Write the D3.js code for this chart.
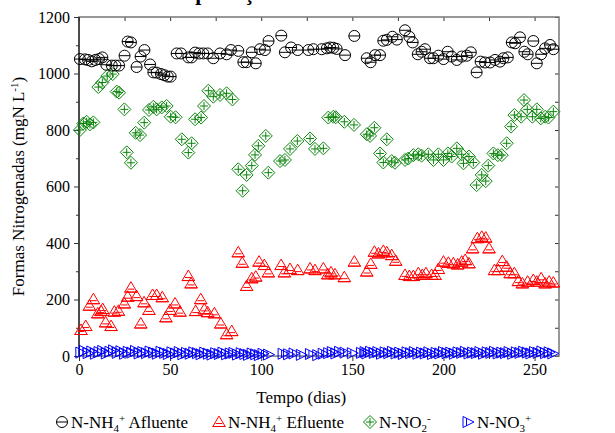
<!DOCTYPE html>
<html>
<head>
<meta charset="utf-8">
<script src="https://cdn.jsdelivr.net/npm/d3@7"></script>
<style>
  body { margin: 0; background: #fff; }
  svg, svg text { font-family: "Liberation Serif", "Times New Roman", Times, serif !important; }
  .tick text { font-size: 16px; fill: #000; }
</style>
</head>
<body>
<svg id="chart"></svg>
<script>
// [dia, mgN/L]
const afluente = [
  [0.5,1051],[3.3,1050],[5,1048],[7,1043],[9,1048],[11,1051],[12.8,1057],[15,1031],[18,1028],[20,1028],
  [22,1028],[25,1063],[26.7,1113],[28.5,1110],[31.6,1023],[33.8,1060],[35.9,1083],[39,1032],[40.8,1004],[42.6,1003],
  [45,998],[46.8,994],[48.7,989],[50.3,989],[53.6,1071],[56,1071],[60,1057],[61.8,1057],[63.7,1074],[66,1071],
  [68.2,1071],[70.6,1071],[73.7,1054],[77.4,1071],[81,1068],[83.4,1083],[87.4,1080],[90.2,1040],[92,1040],[94.8,1075],
  [97,1036],[99.3,1086],[102,1083],[104,1115],[111,1134],[113,1075],[116.4,1092],[120,1083],[125.9,1083],[128.6,1086],
  [133.2,1086],[136,1089],[137.8,1092],[139.6,1091],[141.4,1087],[146,1065],[151.1,1133],[157.9,1054],[160,1040],[162.5,1065],
  [165.2,1065],[167,1116],[168.9,1119],[172,1130],[174.4,1120],[178.9,1153],[181.3,1130],[183.1,1110],[185.9,1068],[188,1077],
  [189.9,1086],[192.6,1054],[194.5,1054],[197.2,1063],[200,1051],[202.3,1077],[204.5,1060],[207.3,1048],[210,1060],[212.8,1063],
  [215,1075],[218.2,1004],[220.4,1042],[222.8,1039],[225.6,1039],[228.3,1048],[231,1042],[232.9,1054],[235.3,1057],[237.5,1110],
  [239.3,1107],[242,1128],[244.4,1077],[246.2,1068],[249.3,1115],[251.2,1036],[253.6,1068],[255.8,1089],[258.5,1101],[260.3,1086]
];

const efluente = [
  [1.1,92],[3.7,106],[5.7,178],[7.9,201],[10.3,151],[12.1,159],[13,166],[14.6,119],[17.6,106],[19.4,157],
  [21.6,160],[24.9,186],[26.7,210],[28.5,242],[31.6,212],[33.9,115],[35.7,190],[38.4,163],[40.4,216],[42.6,216],
  [45.7,208],[47.7,137],[50,163],[52.7,186],[55.4,157],[60,283],[61.5,257],[64,159],[66.8,201],[68.8,165],
  [70.6,155],[74.3,151],[77.8,115],[81,77],[83.8,88],[87.4,367],[89.6,330],[92,248],[94.8,275],[97,281],
  [98.8,334],[101.7,322],[103.9,296],[110.9,322],[112.7,296],[115.8,308],[120,304],[126.8,310],[129.5,304],[134.1,310],
  [136.5,289],[138.3,296],[140.5,289],[145.6,279],[151.1,334],[157.9,299],[160.1,326],[162.1,369],[164.3,363],[167,372],
  [168.9,367],[171.6,357],[173.8,337],[178.9,287],[181.3,283],[183.5,283],[186.2,293],[188.4,287],[190.4,293],[193.5,287],
  [195.4,287],[197.2,308],[200,334],[202.7,330],[205.4,328],[207.8,324],[210,334],[211.9,340],[214,328],[216,381],
  [218.6,417],[221,422],[223.2,419],[225,381],[228,304],[230.1,304],[232.3,336],[234.7,316],[236.6,293],[238.9,293],
  [241.1,265],[243.3,257],[246.2,263],[249.3,269],[251.2,263],[253.6,275],[255.8,257],[258,263],[260.3,260]
];

const nitrito = [
  [0.5,800],[2.4,823],[4.2,829],[6,820],[7.9,827],[10.6,952],[12.8,968],[15.5,991],[18.5,998],[20.7,936],
  [22,932],[24.9,873],[26.2,721],[28.5,684],[31.1,790],[33.5,782],[35.8,826],[38.4,871],[40.8,882],[42.6,873],
  [45.4,880],[48.1,885],[50.3,847],[53,845],[56.4,767],[60,720],[61.8,753],[63.7,838],[67,844],[68.6,885],
  [71,939],[73.7,918],[77.4,924],[81,930],[84.2,908],[87.4,661],[89.8,585],[92,641],[94.8,674],[96.6,712],
  [98.4,744],[102.5,779],[103.9,649],[110.3,690],[113,694],[115.8,733],[119.8,761],[126.8,770],[129.5,733],[134.1,735],
  [136.8,844],[139.6,847],[140.9,845],[145.6,829],[150.9,818],[157.9,785],[159.7,779],[162.1,808],[165.2,717],[167,685],
  [168.9,767],[171.6,690],[173.4,684],[178.9,694],[180.7,699],[183.5,711],[186.2,714],[188,709],[191.7,714],[194.5,694],
  [197.2,714],[200,694],[202.4,717],[204.5,706],[207.3,735],[210,714],[211,682],[214,706],[216.4,685],[218.2,605],
  [221,641],[223.2,619],[224.6,674],[227.4,717],[229.8,711],[232,711],[234.7,753],[237.1,812],[238.9,853],[242.6,847],
  [244.2,906],[246,873],[248.8,847],[251.2,873],[253.4,841],[255.8,847],[257.6,844],[260.3,865]
];

const nitrato = [
  [1,12],[3,18],[5,10],[7,16],[9,8],[11,14],[13,18],[15,9],[17,15],[19,20],[21,11],[23,17],[25,8],[27,15],
  [29,12],[31,18],[33,9],[35,14],[37,10],[39,16],[41,12],[43,8],[45,15],[47,11],[49,7],[51,13],[53,9],[55,14],
  [57,6],[59,11],[61,8],[63,13],[65,10],[67,6],[69,12],[71,8],[73,5],[75,10],[77,7],[79,12],[81,6],[83,9],
  [85,11],[87,5],[89,10],[91,7],[93,4],[95,9],[97,6],[99,3],[101,8],[104,5],[112,8],[115,6],[118,9],[122,4],
  [127,7],[131,3],[134,8],[137,10],[139,14],[141,9],[143,15],[146,12],[150,10],[155,11],[157,14],[158,9],[160,15],
  [162,11],[164,14],[166,8],[168,13],[170,10],[172,15],[174,9],[176,12],[178,7],[180,13],[182,10],[184,14],[186,8],
  [188,12],[190,9],[192,13],[194,7],[196,11],[198,9],[200,14],[202,10],[204,12],[206,8],[208,13],[210,11],[212,15],
  [214,9],[216,12],[218,10],[220,14],[222,8],[224,13],[226,11],[228,15],[230,9],[232,12],[234,10],[236,14],[238,8],
  [240,13],[242,11],[244,15],[246,12],[248,9],[250,14],[252,11],[254,16],[256,10],[258,13],[260,9]
];

const xTicks = [0, 50, 100, 150, 200, 250];
const xMinor = [25, 75, 125, 175, 225];
const yTicks = [0, 200, 400, 600, 800, 1000, 1200];
const yMinor = [100, 300, 500, 700, 900, 1100];

const fontFam = '"Liberation Serif", "Times New Roman", Times, serif';

const margin = {top: 17, right: 56, bottom: 77, left: 79},
  width = 480,
  height = 339;

const svg = d3.select('#chart')
  .attr('width', width + margin.left + margin.right)
  .attr('height', height + margin.top + margin.bottom)
  .attr('font-family', fontFam);

const chart = svg.append('g')
  .attr('transform', `translate(${margin.left}, ${margin.top})`);

const x = d3.scaleLinear().domain([0, 263.4]).range([0, width]);
const y = d3.scaleLinear().domain([0, 1200]).range([height, 0]);

// titulo (cortado no topo, como no original)
svg.append('text')
  .attr('x', 172)
  .attr('y', 0)
  .style('font-size', '22px')
  .style('font-weight', 'bold')
  .text('Especiação das formas');

// eixos
chart.append('g')
  .attr('transform', `translate(0,${height})`)
  .call(d3.axisBottom(x).tickValues(xTicks).tickSize(5).tickPadding(3).tickFormat(d3.format('d')));
chart.append('g')
  .attr('transform', `translate(0,${height})`)
  .call(d3.axisBottom(x).tickValues(xMinor).tickSize(3).tickFormat(''));
chart.append('g')
  .call(d3.axisTop(x).tickValues(xTicks.concat(xMinor)).tickSize(-4).tickFormat(''));

chart.append('g')
  .call(d3.axisLeft(y).tickValues(yTicks).tickSize(5).tickPadding(4).tickFormat(d3.format('d')));
chart.append('g')
  .call(d3.axisLeft(y).tickValues(yMinor).tickSize(3).tickFormat(''));
chart.append('g')
  .attr('transform', `translate(${width},0)`)
  .call(d3.axisRight(y).tickValues(yTicks.concat(yMinor)).tickSize(-4).tickFormat(''));

chart.selectAll('g').attr('font-family', fontFam).attr('font-size', 16);
chart.selectAll('.domain').remove();
chart.selectAll('.tick line').attr('stroke', '#333');

chart.append('rect')
  .attr('width', width)
  .attr('height', height)
  .attr('fill', 'none')
  .attr('stroke', '#777')
  .attr('stroke-width', 1.5);
chart.append('line')
  .attr('x1', 0).attr('x2', 0)
  .attr('y1', 0).attr('y2', height)
  .attr('stroke', '#000');

// simbolos
const shapes = {
  circ: 'M-5.5,0A5.5,5.5 0 1,0 5.5,0A5.5,5.5 0 1,0 -5.5,0ZM-5.5,0H5.5',
  tri: 'M0,-6L6.2,4.5H-6.2ZM-6.5,4.5H6.5M-3.3,1.5H3.3',
  diam: 'M0,-6.5L6.5,0L0,6.5L-6.5,0ZM0,-4V4M-4,0H4',
  rtri: 'M-5,-5.5L6,0L-5,5.5ZM-1.5,-3.7V3.7'
};

const series = [
  {data: nitrato, shape: 'rtri', color: '#0000ff'},
  {data: efluente, shape: 'tri', color: '#ff0000'},
  {data: nitrito, shape: 'diam', color: '#0a850a'},
  {data: afluente, shape: 'circ', color: '#000000'}
];

series.forEach(s => {
  chart.append('g').selectAll('path')
    .data(s.data)
    .enter().append('path')
    .attr('transform', d => `translate(${x(d[0])},${y(d[1])})`)
    .attr('d', shapes[s.shape])
    .attr('fill', 'none')
    .attr('stroke', s.color)
    .attr('stroke-width', 1);
});

// rotulos
svg.append('text')
  .attr('x', margin.left + x(122))
  .attr('y', 403)
  .attr('text-anchor', 'middle')
  .style('font-size', '17px')
  .text('Tempo (dias)');

const yl = svg.append('text')
  .attr('transform', `translate(24,${margin.top + height / 2}) rotate(-90)`)
  .attr('text-anchor', 'middle')
  .style('font-size', '17px');
yl.append('tspan').text('Formas Nitrogenadas (mgN L');
yl.append('tspan').attr('dy', -6).style('font-size', '11px').text('-1');
yl.append('tspan').attr('dy', 6).text(')');

// legenda
const legend = [
  {shape: 'circ', color: '#000000', x: 62, parts: [['N-NH', 0], ['4', 1], ['+', -1], [' Afluente', 0]]},
  {shape: 'tri', color: '#ff0000', x: 219, parts: [['N-NH', 0], ['4', 1], ['+', -1], [' Efluente', 0]]},
  {shape: 'diam', color: '#0a850a', x: 370, parts: [['N-NO', 0], ['2', 1], ['-', -1]]},
  {shape: 'rtri', color: '#0000ff', x: 468, parts: [['N-NO', 0], ['3', 1], ['+', -1]]}
];

legend.forEach(l => {
  svg.append('path')
    .attr('transform', `translate(${l.x},422)`)
    .attr('d', shapes[l.shape])
    .attr('fill', 'none')
    .attr('stroke', l.color);
  const t = svg.append('text')
    .attr('x', l.x + 9)
    .attr('y', 428)
    .style('font-size', '17px');
  let level = 0;
  l.parts.forEach(p => {
    const dy = p[1] === 1 ? 4 - level : (p[1] === -1 ? -6 - level : -level);
    level += dy;
    t.append('tspan')
      .attr('dy', dy)
      .style('font-size', p[1] === 0 ? '17px' : '11px')
      .text(p[0]);
  });
});
</script>
</body>
</html>
